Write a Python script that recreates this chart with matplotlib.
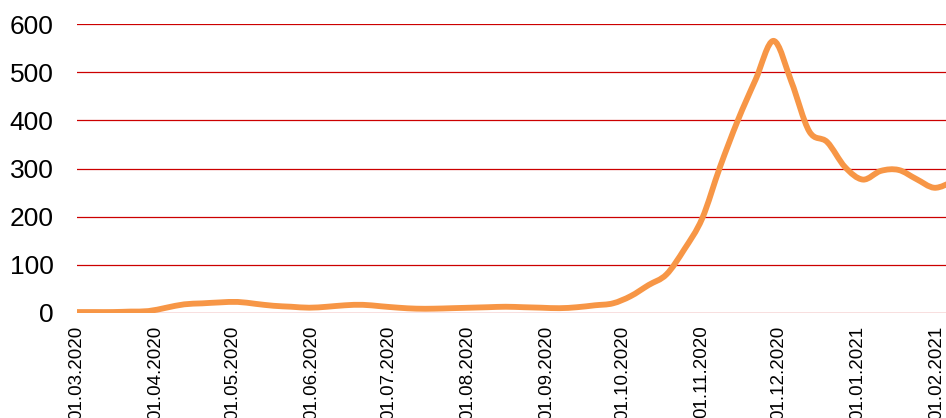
import matplotlib
matplotlib.use("Agg")
import matplotlib.pyplot as plt
import matplotlib.dates as mdates
from matplotlib.path import Path
from matplotlib.patches import PathPatch
import numpy as np
import pandas as pd

# wöchentliche Werte ab 01.03.2020
start = "2020-03-01"
werte = [2, 2, 2, 3, 4, 11, 18, 20, 22, 23,
         19, 15, 13, 11, 13, 16, 17, 14, 11, 9,
         9, 10, 11, 12, 13, 12, 11, 10, 12, 16,
         20, 35, 58, 80, 132, 196, 303, 400, 485, 565,
         480, 377, 355, 303, 277, 295, 297, 278, 260, 272]
tage = pd.date_range(start, periods=len(werte), freq="7D")
ende = pd.Timestamp("2021-02-04 14:00")
y_ticks = [0, 100, 200, 300, 400, 500, 600]

plt.rcParams["font.family"] = ["Liberation Sans", "DejaVu Sans"]

fig = plt.figure(figsize=(9.46, 4.18), dpi=100)
ax = fig.add_axes([77 / 946, 1 - 313 / 418, 1 - 77 / 946, (313 - 24) / 418])

# geglättete Linie (Catmull-Rom als Bezier-Kurven)
x = mdates.date2num(tage)
y = np.array(werte, dtype=float)
P = np.column_stack([x, y])
Pp = np.vstack([P[0], P, P[-1]])
verts = [P[0]]
codes = [Path.MOVETO]
for i in range(len(P) - 1):
    p0, p1, p2, p3 = Pp[i], Pp[i + 1], Pp[i + 2], Pp[i + 3]
    c1 = p1 + (p2 - p0) / 6
    c2 = p2 - (p3 - p1) / 6
    verts += [c1, c2, p2]
    codes += [Path.CURVE4] * 3
kurve = PathPatch(Path(verts, codes), facecolor="none", edgecolor="#F79646",
                  lw=4.2, capstyle="round", joinstyle="round", zorder=3)
ax.add_patch(kurve)

ax.set_xlim(mdates.date2num(pd.Timestamp(start)), mdates.date2num(ende))
ax.set_ylim(0, 600)
ax.set_yticks(y_ticks)
ax.xaxis.set_major_locator(mdates.MonthLocator(bymonthday=1))
ax.xaxis.set_major_formatter(mdates.DateFormatter("%d.%m.%Y"))

ax.yaxis.grid(True, color="#CC0000", lw=0.9)
ax.set_axisbelow(True)
for s in ax.spines.values():
    s.set_visible(False)
ax.tick_params(axis="y", length=0, pad=17, labelsize=19)
ax.tick_params(axis="x", length=0, pad=9, labelsize=13.5, labelrotation=90)

fig.savefig("out.png", dpi=100)
